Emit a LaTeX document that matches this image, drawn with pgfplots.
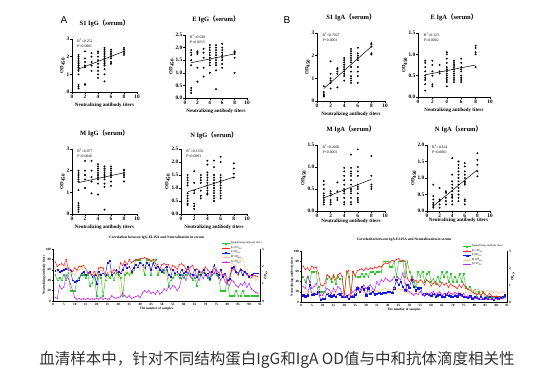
\documentclass[border=0pt]{standalone}
\usepackage{fontspec}
\setmainfont{Liberation Serif}
\newfontfamily\cjk{Noto Sans CJK SC}
\newfontfamily\arial{Liberation Sans}
\usepackage{pgfplots}
\usepackage{pgfplotstable}
\pgfplotsset{compat=1.18}
\definecolor{cg}{RGB}{40,200,40}
\definecolor{cr}{RGB}{255,30,30}
\definecolor{cb}{RGB}{20,20,230}
\definecolor{co}{RGB}{255,200,150}
\definecolor{cp}{RGB}{190,40,255}
\pgfplotsset{
  sc/.style={scale only axis, axis x line*=bottom, axis y line*=left,
    xmin=0, xmax=10, ymin=0, xtick={0,2,4,6,8,10},
    axis line style={line width=0.8pt,-},
    tick style={black, line width=0.6pt},
    tick align=outside, major tick length=1.6pt,
    tick label style={font=\fontsize{5.3}{6}\selectfont\bfseries},
    xticklabel style={inner sep=1pt},
    yticklabel style={inner sep=1pt},
    /pgf/number format/assume math mode=true,
    title style={font=\fontsize{6.5}{7.5}\selectfont\bfseries, at={(0.5,1)}, anchor=center, yshift=10pt},
    xlabel={Neutralizing antibody titers},
    ylabel={OD\textsubscript{450}},
    label style={font=\fontsize{5}{6}\selectfont\bfseries},
    xlabel style={at={(0.5,0)}, anchor=center, yshift=-13pt},
    ylabel style={yshift=-3pt},
    clip=false},
  dots/.style={only marks, mark=*, mark size=0.75pt, black},
  fitl/.style={black, line width=0.5pt, no marks},
  yd/.style={yticklabel style={/pgf/number format/.cd, fixed, fixed zerofill, precision=1}},
  lc/.style={scale only axis, xmin=0, xmax=95, ymin=0, ymax=100,
    axis x line*=bottom, axis y line*=left, axis line style={-, line width=0.5pt},
    xtick={0,5,...,95}, ytick={0,20,...,100}, tick align=outside, major tick length=1.2pt,
    tick style={black, line width=0.4pt},
    tick label style={font=\fontsize{3.3}{3.8}\selectfont\bfseries, inner sep=0.8pt},
    /pgf/number format/assume math mode=true,
    label style={font=\fontsize{3.3}{3.8}\selectfont\bfseries},
    ylabel style={yshift=-4pt},
    xlabel style={yshift=3pt},
    title style={font=\fontsize{3.6}{4}\selectfont\bfseries, at={(0.5,1)}, anchor=south, yshift=0.5pt}},
  lc2/.style={scale only axis, xmin=0, xmax=95, ymin=0, ymax=3,
    axis y line*=right, axis x line=none, axis line style={-, line width=0.5pt},
    ytick={0,1,2,3}, tick align=outside, major tick length=1.2pt,
    tick style={black, line width=0.4pt},
    tick label style={font=\fontsize{3.3}{3.8}\selectfont\bfseries, inner sep=0.8pt},
    /pgf/number format/assume math mode=true,
    ylabel={OD\textsubscript{450}},
    label style={font=\fontsize{3.3}{3.8}\selectfont\bfseries},
    ylabel style={yshift=4pt},
    legend cell align=left,
    legend image code/.code={\draw[mark repeat=2, mark phase=2] plot coordinates {(0pt,0pt) (4pt,0pt) (8pt,0pt)};},
    legend style={draw=none, fill=none, anchor=north west, font=\fontsize{2.8}{3.2}\selectfont, nodes={inner sep=0.6pt}}},
  ln/.style={line width=0.45pt, mark size=0.45pt},
}
\pgfplotstableread{
x g s e m n
1 50 2.25 1.75 1.9 0.2
2 40 2.0 1.8 1.7 0.15
3 45 2.1 1.7 1.8 0.9
4 40 2.15 1.75 1.6 0.7
5 50 2.05 1.8 1.9 0.8
6 40 2.4 1.85 2.0 1.5
7 55 1.9 1.8 1.8 1.3
8 20 1.8 1.75 1.7 1.0
9 20 1.7 1.2 1.6 0.6
10 20 1.9 1.1 1.5 0.2
11 40 1.8 1.15 1.7 0.1
12 45 2.0 1.2 1.8 0.15
13 50 2.0 1.6 1.9 0.1
14 50 2.05 1.7 2.0 0.12
15 45 1.85 1.5 1.8 0.1
16 50 1.65 1.6 1.6 0.15
17 30 1.6 1.7 1.5 0.1
18 35 1.5 1.4 1.7 0.12
19 50 1.7 1.5 1.5 0.1
20 10 1.45 1.0 1.3 0.15
21 50 1.9 1.7 1.6 0.1
22 45 1.95 1.5 1.8 0.2
23 10 1.9 1.6 1.7 0.1
24 40 1.4 1.5 1.5 0.15
25 50 1.6 2.2 1.6 0.1
26 45 1.7 2.3 1.7 0.12
27 50 1.65 1.5 1.8 0.3
28 40 1.8 1.6 1.6 0.2
29 55 1.75 1.8 1.5 0.15
30 50 1.6 1.7 1.4 0.2
31 45 2.2 1.6 0.2 0.25
32 10 2.05 1.8 1.9 0.45
33 50 2.3 2.1 1.6 0.3
34 55 2.1 1.9 1.7 0.2
35 50 2.4 2.0 1.6 0.3
36 55 2.2 1.7 2.0 0.15
37 60 2.3 1.9 1.8 0.2
38 80 2.4 2.1 1.9 0.25
39 80 2.35 2.0 2.0 0.3
40 80 2.45 2.2 1.8 0.2
41 70 2.45 2.1 2.1 0.45
42 50 2.5 1.9 1.9 0.6
43 80 2.45 2.2 2.0 0.5
44 80 2.4 2.1 1.9 0.6
45 50 2.3 1.8 1.7 0.45
46 80 2.4 2.2 1.8 0.5
47 80 2.15 1.9 2.0 0.4
48 50 2.1 2.0 1.9 0.6
49 60 1.85 1.8 1.6 0.4
50 60 2.1 1.7 1.9 0.5
51 55 2.15 1.8 1.8 0.7
52 60 2.1 2.0 1.7 0.6
53 30 2.1 1.5 1.3 0.8
54 40 1.8 1.4 1.6 0.7
55 45 2.05 1.8 1.7 0.9
56 50 1.95 1.6 1.8 0.8
57 50 1.85 1.7 1.6 0.6
58 45 2.1 1.5 1.9 0.8
59 50 2.15 1.8 1.7 1.3
60 45 2.05 1.6 1.8 1.5
61 50 1.85 1.7 1.6 1.2
62 55 1.8 2.0 1.7 1.6
63 50 1.95 1.6 1.9 1.4
64 40 2.05 1.5 1.6 1.3
65 45 1.75 1.8 1.7 1.5
66 30 1.85 1.4 1.5 1.4
67 50 1.75 1.7 1.8 1.2
68 50 1.65 1.5 1.6 1.5
69 55 1.8 1.8 1.9 1.3
70 50 1.95 1.5 1.7 1.6
71 45 1.8 1.6 1.5 1.4
72 40 1.65 1.3 1.7 1.7
73 50 1.55 1.7 1.6 1.5
74 55 1.85 2.1 1.8 1.6
75 50 1.75 1.6 1.9 1.8
76 45 1.65 1.5 1.7 1.4
77 20 1.5 1.8 1.5 1.2
78 20 1.55 1.4 1.6 1.5
79 20 1.45 1.6 1.4 1.1
80 40 1.05 1.2 1.3 1.0
81 10 1.2 1.3 1.5 0.9
82 10 1.75 1.9 2.2 1.2
83 10 1.85 2.0 2.1 1.1
84 20 1.65 1.7 1.9 0.9
85 10 1.5 1.6 2.5 0.8
86 10 1.85 1.8 2.3 1.0
87 20 1.75 1.5 2.5 0.9
88 10 1.65 1.7 2.0 1.1
89 10 1.5 1.6 1.8 0.8
90 10 1.45 1.4 1.6 1.0
91 10 1.35 1.5 1.3 0.7
92 10 1.5 1.6 1.4 0.6
93 10 1.45 1.6 1.2 0.5
94 10 1.4 1.6 1.3 0.45
}\tabA
\pgfplotstableread{
x g s e m n
1 50 2.1 0.4 0.6 0.9
2 40 1.9 0.35 0.5 0.8
3 50 2.0 0.4 0.7 1.5
4 40 1.85 1.0 0.6 1.2
5 60 2.1 0.45 0.5 0.8
6 60 2.0 0.45 0.6 0.9
7 60 2.05 0.5 0.5 1.1
8 30 1.7 0.6 0.4 0.6
9 20 1.0 0.15 0.5 0.4
10 20 0.95 0.2 0.45 0.4
11 20 1.1 0.2 0.6 0.6
12 45 1.6 0.5 0.5 0.8
13 50 1.5 0.4 0.45 0.7
14 40 1.35 0.35 0.5 0.5
15 50 1.6 0.4 0.55 0.8
16 35 1.3 0.3 0.4 0.6
17 50 1.6 0.5 0.5 0.9
18 45 1.7 0.45 0.6 0.8
19 45 1.5 0.3 0.45 0.5
20 10 0.4 0.3 0.35 0.3
21 60 1.8 0.35 0.5 0.3
22 50 1.85 0.2 0.4 0.4
23 10 0.4 0.3 0.45 0.5
24 60 1.8 0.35 0.4 0.6
25 50 1.55 0.45 0.5 0.7
26 50 1.85 0.8 0.55 0.9
27 50 1.9 0.6 0.5 0.8
28 55 1.95 0.9 0.6 0.7
29 50 1.85 0.75 0.55 1.0
30 55 2.0 0.4 0.6 0.8
31 50 1.9 0.8 0.5 0.9
32 60 2.0 0.5 0.65 1.0
33 60 1.95 0.6 0.7 0.8
34 55 2.05 0.45 0.6 0.7
35 60 2.0 0.5 0.65 1.2
36 60 2.1 0.55 0.6 1.0
37 60 2.05 0.5 0.7 1.3
38 80 2.2 0.55 0.75 1.2
39 80 2.3 0.55 0.8 1.4
40 80 2.25 0.6 0.7 1.3
41 70 2.35 0.6 0.75 1.2
42 70 2.45 0.55 0.7 1.3
43 80 2.4 0.8 0.8 1.5
44 50 2.5 1.3 0.7 1.2
45 80 2.55 1.0 0.8 1.4
46 80 2.4 1.2 0.7 1.3
47 80 2.45 0.9 0.75 1.7
48 50 2.4 0.7 0.6 1.1
49 80 1.4 1.0 0.55 0.7
50 60 1.2 0.85 0.5 0.6
51 50 1.4 1.3 0.45 0.5
52 40 1.3 0.9 0.5 0.4
53 30 1.25 0.7 0.55 0.5
54 60 1.15 0.8 0.5 0.45
55 50 1.3 0.85 0.6 0.6
56 60 1.2 0.5 0.5 0.4
57 40 1.0 0.45 0.45 0.35
58 55 1.3 0.5 0.55 0.5
59 60 1.2 0.45 0.5 0.4
60 40 0.95 0.4 0.45 0.55
61 45 1.1 0.5 0.5 0.6
62 35 1.2 0.35 0.4 0.45
63 50 1.05 0.4 0.55 0.5
64 40 0.9 0.45 0.5 0.6
65 60 1.15 0.35 0.45 0.4
66 50 1.0 0.3 0.4 0.5
67 60 1.1 0.45 0.5 0.45
68 40 0.85 0.4 0.45 0.6
69 55 1.05 0.35 0.5 0.5
70 40 0.95 0.3 0.55 0.45
71 50 0.9 0.4 0.45 0.55
72 40 0.8 0.35 0.5 0.5
73 55 1.0 0.45 0.6 0.4
74 40 0.85 0.4 0.55 0.35
75 55 1.05 0.3 0.5 0.5
76 30 0.8 0.3 0.55 0.3
77 25 0.75 0.25 0.6 0.35
78 30 0.7 0.35 0.5 0.3
79 20 0.6 0.2 0.6 0.25
80 25 0.5 0.3 0.7 0.2
81 10 0.45 0.25 0.6 0.25
82 20 0.5 0.2 0.75 0.2
83 10 0.4 0.3 0.6 0.15
84 20 0.55 0.2 0.7 0.2
85 10 0.45 0.25 0.55 0.15
86 10 0.35 0.2 0.7 0.2
87 10 0.5 0.3 0.6 0.15
88 10 0.35 0.2 0.65 0.2
89 10 0.3 0.15 0.55 0.15
90 10 0.35 0.25 0.6 0.2
91 10 0.3 0.2 0.5 0.15
92 10 0.3 0.25 0.55 0.2
93 10 0.25 0.3 0.6 0.2
94 10 0.3 0.4 0.55 0.25
}\tabB
\newcommand{\ser}[1]{#1{\cjk （}serum{\cjk ）}}
\newcommand{\stat}[2]{\node[anchor=north west, font=\fontsize{3.8}{4.3}\selectfont, align=left, inner sep=0pt] at (rel axis cs:0.08,1) {R\textsuperscript{2}=#1\\P#2};}
\begin{document}
\begin{tikzpicture}
\path[use as bounding box] (0,0) rectangle (553pt,-380pt);
\node[font=\arial\fontsize{10}{11}\selectfont] at (64pt,-20pt) {A};
\node[font=\arial\fontsize{10}{11}\selectfont] at (287pt,-20pt) {B};
% S1 IgG
\begin{axis}[sc, at={(72pt,-92pt)}, anchor=south west, width=65pt, height=53pt, ymax=3, ytick={0,1,2,3}, title={\ser{S1 IgG}}]
\addplot[dots] coordinates {(1,2.1)(1,2.0)(1,1.9)(1,1.8)(1,1.7)(1,1.6)(1,1.5)(1,1.4)(1,1.3)(1,1.2)(1,1.0)(1,0.4)(1,0.3)(1,0.2)(2,2.3)(2,1.9)(2,1.7)(2,1.5)(2,1.4)(2,0.45)(2,0.4)(3,2.2)(3,2.0)(3,1.7)(3,1.5)(3,1.2)(4,2.3)(4,2.2)(4,2.0)(4,1.8)(4,1.6)(4,1.4)(4,1.2)(4,1.0)(4,0.8)(5,2.5)(5,2.4)(5,2.3)(5,2.2)(5,2.1)(5,2.0)(5,1.9)(5,1.8)(5,1.7)(5,1.6)(5,1.5)(5,1.3)(5,1.0)(5,0.6)(6,2.4)(6,2.3)(6,2.2)(6,2.1)(6,2.0)(6,1.9)(6,1.7)(6,1.6)(8,2.5)(8,2.4)(8,2.3)(8,2.2)(8,2.1)};
\addplot[fitl] coordinates {(1,1.3) (8,2.3)};
\stat{0.252}{<0.0001}
\end{axis}
% E IgG
\begin{axis}[sc, yd, at={(185pt,-98pt)}, anchor=south west, width=62pt, height=63pt, ymax=2.5, ytick={0,0.5,...,2.5}, title={\ser{E IgG}}]
\addplot[dots] coordinates {(1,1.9)(1,1.8)(1,1.7)(1,1.5)(1,1.3)(1,0.4)(1,0.3)(1,0.2)(2,1.85)(2,1.8)(2,1.75)(2,1.2)(2,0.65)(3,1.95)(3,1.8)(3,1.6)(3,1.2)(3,0.85)(4,2.1)(4,2.0)(4,1.9)(4,1.8)(4,1.7)(4,1.6)(4,1.5)(4,1.4)(4,1.3)(4,1.0)(5,2.1)(5,2.0)(5,1.9)(5,1.8)(5,1.7)(5,1.6)(5,1.5)(5,1.4)(5,1.3)(5,1.1)(5,0.35)(6,2.15)(6,2.0)(6,1.9)(6,1.8)(6,1.7)(6,1.6)(6,1.5)(6,1.35)(6,1.2)(8,1.85)(8,1.8)(8,1.75)(8,1.6)(8,1.0)};
\addplot[fitl] coordinates {(1,1.4) (8,1.75)};
\stat{0.038}{=0.0215}
\end{axis}
% M IgG
\begin{axis}[sc, at={(72pt,-214pt)}, anchor=south west, width=65pt, height=65pt, ymax=3, ytick={0,1,2,3}, title={\ser{M IgG}}]
\addplot[dots] coordinates {(1,2.0)(1,1.9)(1,1.8)(1,1.7)(1,1.6)(1,1.5)(1,1.1)(1,0.5)(1,0.4)(1,0.3)(1,0.2)(1,0.1)(2,2.45)(2,2.0)(2,1.8)(2,1.6)(2,1.2)(3,2.45)(3,2.0)(3,1.7)(3,1.5)(3,0.95)(4,2.3)(4,2.2)(4,2.1)(4,2.0)(4,1.9)(4,1.8)(4,1.7)(4,1.6)(4,1.4)(4,0.9)(5,2.2)(5,2.1)(5,2.0)(5,1.9)(5,1.8)(5,1.7)(5,1.6)(5,1.4)(5,1.25)(5,0.2)(6,2.2)(6,2.1)(6,2.0)(6,1.9)(6,1.8)(6,1.7)(6,1.5)(6,1.3)(8,2.05)(8,2.0)(8,1.9)(8,1.8)(8,1.7)(8,1.5)};
\addplot[fitl] coordinates {(1,1.45) (8,1.9)};
\stat{0.077}{=0.0042}
\end{axis}
% N IgG
\begin{axis}[sc, yd, at={(181pt,-214pt)}, anchor=south west, width=66pt, height=65pt, ymax=2.5, ytick={0,0.5,...,2.5}, title={\ser{N IgG}}, title style={yshift=-2pt}]
\addplot[dots] coordinates {(1,1.5)(1,1.4)(1,1.3)(1,1.2)(1,1.1)(1,0.8)(1,0.7)(1,0.6)(1,0.5)(1,0.4)(1,0.35)(2,1.65)(2,1.2)(2,0.9)(2,0.8)(2,0.4)(2,0.3)(2,0.2)(3,1.5)(3,1.4)(3,1.3)(3,1.2)(3,0.9)(3,0.7)(3,0.6)(4,2.05)(4,1.9)(4,1.6)(4,1.5)(4,1.4)(4,1.3)(4,1.2)(4,1.1)(4,1.0)(4,0.9)(4,0.8)(4,0.75)(5,2.05)(5,1.8)(5,1.5)(5,1.4)(5,1.3)(5,1.2)(5,1.1)(5,1.0)(5,0.9)(5,0.8)(5,0.7)(5,0.6)(5,0.5)(6,2.2)(6,2.0)(6,1.5)(6,1.4)(6,1.3)(6,1.2)(6,1.1)(6,1.0)(6,0.9)(6,0.8)(6,0.7)(6,0.6)(8,1.95)(8,1.75)(8,1.55)(8,1.4)};
\addplot[fitl] coordinates {(1,0.85) (8,1.42)};
\stat{0.1356}{<0.0001}
\end{axis}
% S1 IgA
\begin{axis}[sc, at={(317pt,-101pt)}, anchor=south west, width=68pt, height=68pt, ymax=3, ytick={0,1,2,3}, title={\ser{S1 IgA}}]
\addplot[dots] coordinates {(1,0.65)(1,0.4)(1,0.3)(1,0.25)(1,0.2)(2,1.75)(2,1.2)(2,1.0)(2,0.9)(2,0.8)(2,0.55)(3,1.45)(3,1.4)(3,1.3)(3,1.2)(3,0.6)(4,1.9)(4,1.8)(4,1.7)(4,1.6)(4,1.5)(4,1.4)(4,1.3)(4,1.2)(4,1.1)(4,0.9)(5,2.3)(5,2.2)(5,2.1)(5,2.0)(5,1.9)(5,1.8)(5,1.7)(5,1.5)(5,1.3)(5,1.1)(5,1.0)(5,0.9)(5,0.8)(6,2.35)(6,2.1)(6,2.0)(6,1.9)(6,1.8)(6,1.5)(6,1.3)(6,1.1)(6,0.8)(8,2.55)(8,2.5)(8,2.4)(8,2.1)(8,2.05)};
\addplot[fitl] coordinates {(1,0.55) (8,2.4)};
\stat{0.7027}{<0.0001}
\end{axis}
% E IgA
\begin{axis}[sc, yd, at={(418pt,-97pt)}, anchor=south west, width=72pt, height=64pt, ymax=1.5, ytick={0,0.5,1.0,1.5}, title={\ser{E IgA}}]
\addplot[dots] coordinates {(1,0.85)(1,0.8)(1,0.7)(1,0.6)(1,0.5)(1,0.45)(1,0.4)(1,0.3)(1,0.15)(2,0.85)(2,0.75)(2,0.6)(2,0.5)(2,0.3)(2,0.25)(3,0.75)(3,0.6)(3,0.55)(4,1.05)(4,1.0)(4,0.9)(4,0.8)(4,0.7)(4,0.65)(4,0.6)(4,0.55)(4,0.5)(4,0.45)(4,0.4)(4,0.35)(4,0.25)(5,0.85)(5,0.8)(5,0.75)(5,0.7)(5,0.65)(5,0.6)(5,0.55)(5,0.5)(5,0.45)(5,0.4)(5,0.35)(6,0.9)(6,0.8)(6,0.7)(6,0.65)(6,0.6)(6,0.5)(6,0.45)(6,0.4)(6,0.35)(8,1.2)(8,1.15)(8,1.05)(8,1.0)(8,0.7)};
\addplot[fitl] coordinates {(1,0.52) (8,0.75)};
\stat{0.123}{=0.0002}
\end{axis}
% M IgA
\begin{axis}[sc, yd, at={(317pt,-211pt)}, anchor=south west, width=68pt, height=66pt, ymax=1.5, ytick={0,0.5,1.0,1.5}, title={\ser{M IgA}}, xlabel style={yshift=3pt}]
\addplot[dots] coordinates {(1,0.68)(1,0.6)(1,0.5)(1,0.4)(1,0.35)(1,0.3)(1,0.25)(1,0.2)(1,0.15)(2,0.45)(2,0.4)(2,0.35)(2,0.25)(2,0.2)(2,0.15)(3,0.65)(3,0.45)(3,0.3)(3,0.25)(4,0.98)(4,0.9)(4,0.8)(4,0.7)(4,0.6)(4,0.5)(4,0.45)(4,0.4)(4,0.3)(4,0.2)(4,0.15)(5,1.28)(5,0.98)(5,0.9)(5,0.85)(5,0.8)(5,0.7)(5,0.6)(5,0.5)(5,0.45)(5,0.4)(5,0.3)(5,0.2)(5,0.15)(6,1.4)(6,1.0)(6,0.9)(6,0.8)(6,0.6)(6,0.55)(6,0.5)(6,0.4)(6,0.3)(6,0.25)(6,0.2)(8,1.25)(8,0.8)(8,0.6)(8,0.55)(8,0.5)};
\addplot[fitl] coordinates {(1,0.3) (8,0.72)};
\stat{0.2002}{<0.0001}
\end{axis}
% N IgA
\begin{axis}[sc, yd, at={(427pt,-211pt)}, anchor=south west, width=63pt, height=66pt, ymax=2.0, ytick={0,0.5,...,2.0}, title={\ser{N IgA}}, xlabel style={yshift=4pt}]
\addplot[dots] coordinates {(1,0.8)(1,0.45)(1,0.35)(1,0.25)(1,0.2)(1,0.15)(1,0.1)(2,0.7)(2,0.35)(2,0.3)(2,0.2)(2,0.1)(3,0.6)(3,0.55)(3,0.4)(3,0.3)(3,0.2)(4,1.6)(4,1.1)(4,0.9)(4,0.8)(4,0.7)(4,0.6)(4,0.5)(4,0.45)(4,0.4)(4,0.3)(4,0.2)(5,1.5)(5,1.4)(5,1.3)(5,1.2)(5,1.1)(5,1.0)(5,0.9)(5,0.8)(5,0.7)(5,0.6)(5,0.5)(5,0.4)(5,0.3)(6,1.45)(6,1.35)(6,1.2)(6,1.1)(6,1.0)(6,0.9)(6,0.85)(6,0.8)(6,0.35)(6,0.3)(6,0.2)(8,1.75)(8,1.55)(8,1.4)(8,1.2)(8,1.05)};
\addplot[fitl] coordinates {(1,0.15) (8,1.25)};
\stat{0.424}{<0.0001}
\end{axis}
% Line chart A
\begin{axis}[lc, at={(53pt,-301pt)}, anchor=south west, width=207pt, height=52pt,
  title={Correlation between IgG-ELISA and Neutralization in serum},
  ylabel={Neutralizing antibody titers}, xlabel={The number of samples}]
\addplot[cg, ln, mark=square*] table[x=x,y=g]{\tabA};
\end{axis}
\begin{axis}[lc2, at={(53pt,-301pt)}, anchor=south west, width=207pt, height=52pt,
  legend style={at={(0.8,1.19)}}]
\addlegendimage{cg, ln, mark=square*}
\addlegendentry{Neutralizing antibody titers}
\addplot[cr, ln, mark=triangle*] table[x=x,y=s]{\tabA};
\addlegendentry{S1 OD\textsubscript{450}}
\addplot[cb, ln, mark=square*] table[x=x,y=e]{\tabA};
\addlegendentry{E OD\textsubscript{450}}
\addplot[co, ln, mark=triangle*] table[x=x,y=m]{\tabA};
\addlegendentry{M OD\textsubscript{450}}
\addplot[cp, ln, mark=diamond*] table[x=x,y=n]{\tabA};
\addlegendentry{N OD\textsubscript{450}}
\end{axis}
% Line chart B
\begin{axis}[lc, at={(301pt,-302pt)}, anchor=south west, width=206pt, height=51pt,
  title={Correlation between IgA-ELISA and Neutralization in serum},
  ylabel={Neutralizing antibody titers}, xlabel={The number of samples}, xlabel style={yshift=0pt}]
\addplot[cg, ln, mark=square*] table[x=x,y=g]{\tabB};
\end{axis}
\begin{axis}[lc2, at={(301pt,-302pt)}, anchor=south west, width=206pt, height=51pt,
  legend style={at={(0.77,1.18)}}]
\addlegendimage{cg, ln, mark=square*}
\addlegendentry{Neutralizing antibody titers}
\addplot[cr, ln, mark=triangle*] table[x=x,y=s]{\tabB};
\addlegendentry{S1 OD\textsubscript{450}}
\addplot[cb, ln, mark=square*, mark size=0.7pt] table[x=x,y=e]{\tabB};
\addlegendentry{E OD\textsubscript{450}}
\addplot[co, ln, mark=triangle*] table[x=x,y=m]{\tabB};
\addlegendentry{M OD\textsubscript{450}}
\addplot[cp, ln, mark=diamond*] table[x=x,y=n]{\tabB};
\addlegendentry{N OD\textsubscript{450}}
\end{axis}
\node[font=\cjk\fontsize{15.5}{17}\selectfont, text=black!80] at (277pt,-360pt) {血清样本中，针对不同结构蛋白IgG和IgA OD值与中和抗体滴度相关性};
\end{tikzpicture}
\end{document}
